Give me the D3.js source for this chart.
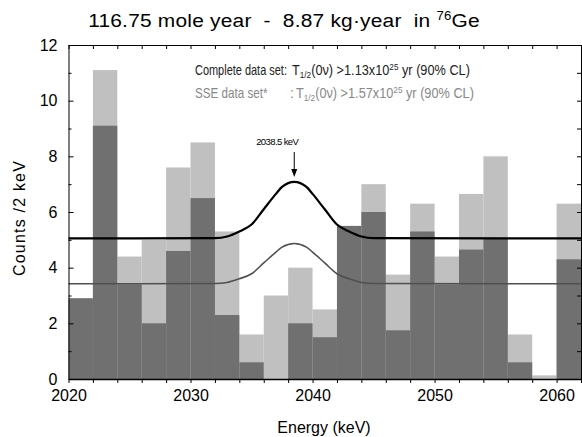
<!DOCTYPE html>
<html lang="en">
<head>
<meta charset="utf-8">
<title>76Ge spectrum</title>
<script src="https://cdn.jsdelivr.net/npm/d3@7"></script>
<style>
  body { margin: 0; background: #fff; }
  svg text { font-family: "Liberation Sans", Arial, sans-serif; }
</style>
</head>
<body>
<svg id="chart" width="582" height="437"></svg>
<script>
// bin left edges (2 keV bins)
var binStart = [2020, 2022, 2024, 2026, 2028, 2030, 2032, 2034, 2036, 2038, 2040,
                2042, 2044, 2046, 2048, 2050, 2052, 2054, 2056, 2058, 2060];
// complete data set (light grey)
var completeCounts = [2.9, 11.1, 4.4, 5.0, 7.6, 8.5, 5.3, 1.6, 3.0, 4.0, 2.5,
                      5.5, 7.0, 3.75, 6.3, 4.4, 6.65, 8.0, 1.6, 0.13, 6.3];
// SSE data set (dark grey)
var sseCounts = [2.9, 9.1, 3.4, 2.0, 4.6, 6.5, 2.3, 0.6, 0, 2.0, 1.5,
                 5.5, 6.0, 1.75, 5.3, 3.4, 4.65, 5.05, 0.6, 0, 4.3];
// fit curves
var curveE = [2020, 2032, 2033, 2034, 2035, 2036, 2037, 2037.5, 2038.5, 2039.5, 2040, 2041, 2042, 2043, 2044, 2045, 2062];
var fitComplete = [5.05, 5.06, 5.12, 5.3, 5.55, 6.1, 6.65, 6.9, 7.08, 6.9, 6.65, 6.1, 5.55, 5.3, 5.12, 5.06, 5.05];
var fitSSE = [3.42, 3.43, 3.47, 3.6, 3.78, 4.17, 4.56, 4.74, 4.87, 4.74, 4.56, 4.17, 3.78, 3.6, 3.47, 3.43, 3.42];
var xTicks = [2020, 2030, 2040, 2050, 2060];
var yTicks = [0, 2, 4, 6, 8, 10, 12];
var peakE = 2038.5;

(function() {
var binWidth = 2;
var pl = 68.5, pr = 581, pt = 45, pb = 379;

var svg = d3.select('#chart');
var x = d3.scaleLinear().domain([2020, 2062]).range([pl, pr]);
var y = d3.scaleLinear().domain([0, 12]).range([pb, pt]);

var plot = svg.append('g');

// light bars (complete set)
plot.selectAll('rect.complete')
    .data(binStart)
    .enter().append('rect')
    .attr('class', 'complete')
    .attr('x', function(d) { return x(d); })
    .attr('width', function(d) { return x(d + binWidth) - x(d); })
    .attr('y', function(d, i) { return y(completeCounts[i]); })
    .attr('height', function(d, i) { return y(0) - y(completeCounts[i]); })
    .attr('fill', '#c0c0c0');

// dark bars (SSE set)
plot.selectAll('rect.sse')
    .data(binStart)
    .enter().append('rect')
    .attr('class', 'sse')
    .attr('x', function(d) { return x(d); })
    .attr('width', function(d) { return x(d + binWidth) - x(d); })
    .attr('y', function(d, i) { return y(sseCounts[i]); })
    .attr('height', function(d, i) { return y(0) - y(sseCounts[i]); })
    .attr('fill', '#707070');

var line = d3.line()
    .x(function(d) { return x(d[0]); })
    .y(function(d) { return y(d[1]); })
    .curve(d3.curveMonotoneX);

plot.append('path')
    .datum(d3.zip(curveE, fitSSE))
    .attr('d', line)
    .attr('fill', 'none')
    .attr('stroke', '#505050')
    .attr('stroke-width', 1.6);

plot.append('path')
    .datum(d3.zip(curveE, fitComplete))
    .attr('d', line)
    .attr('fill', 'none')
    .attr('stroke', '#000')
    .attr('stroke-width', 2.2);

// axes
var bottomAxis = d3.axisBottom(x).tickValues(d3.range(2020, 2063, 2))
    .tickSize(4).tickSizeOuter(0)
    .tickFormat(function(d) { return xTicks.indexOf(d) >= 0 ? d : ''; });
var gx = svg.append('g').attr('transform', 'translate(0,' + pb + ')').call(bottomAxis);
gx.select('.domain').attr('stroke-width', 1.5);
gx.selectAll('text').attr('font-size', 16).attr('dy', '0.95em').attr('fill', '#000');

var topAxis = d3.axisTop(x).tickValues(d3.range(2020, 2063, 2)).tickSize(-4).tickSizeOuter(0).tickFormat('');
svg.append('g').attr('transform', 'translate(0,' + pt + ')').call(topAxis);

var leftAxis = d3.axisLeft(y).tickValues(yTicks).tickSize(-5).tickSizeOuter(0).tickPadding(11);
var gy = svg.append('g').attr('transform', 'translate(' + pl + ',0)').call(leftAxis);
gy.selectAll('text').attr('font-size', 16).attr('fill', '#000');
svg.append('g').attr('transform', 'translate(' + pl + ',0)')
    .call(d3.axisLeft(y).tickValues(d3.range(1, 12, 2)).tickSize(-3).tickFormat(''))
    .select('.domain').remove();

var rightAxis = d3.axisRight(y).tickValues(d3.range(0, 13, 1)).tickSize(-4).tickSizeOuter(0).tickFormat('');
svg.append('g').attr('transform', 'translate(' + pr + ',0)').call(rightAxis);

// title
var title = svg.append('text')
    .attr('transform', 'translate(284,27) scale(1.1,1)')
    .attr('text-anchor', 'middle')
    .attr('font-size', 19)
    .attr('letter-spacing', 0.2)
    .style('white-space', 'pre');
title.append('tspan').text('116.75 mole year  -  8.87 kg\u00b7year  in ');
title.append('tspan').attr('font-size', 12).attr('dy', -7).text('76');
title.append('tspan').attr('dy', 7).text('Ge');

// axis labels
svg.append('text')
    .attr('x', 324).attr('y', 433)
    .attr('text-anchor', 'middle')
    .attr('font-size', 16)
    .text('Energy (keV)');

svg.append('text')
    .attr('transform', 'translate(25,218) rotate(-90)')
    .attr('text-anchor', 'middle')
    .attr('font-size', 16)
    .attr('letter-spacing', 1.2)
    .text('Counts /2 keV');

// squeeze a text group horizontally to a target width (the original font is narrow)
function fitWidth(g, x0, yy, target) {
    var w = g.node().getBBox().width;
    g.attr('transform', 'translate(' + x0 + ',' + yy + ') scale(' + (target / w) + ',1)');
}

// legend lines
function halfLife(label, labelW, colonX, tX, value, color, yy) {
    var gl = svg.append('g');
    gl.append('text').attr('font-size', 14).attr('fill', color).text(label);
    fitWidth(gl, 195, yy, labelW);
    if (colonX) {
        svg.append('text').attr('x', colonX).attr('y', yy)
            .attr('font-size', 14).attr('fill', color).text(':');
    }
    var gt = svg.append('g');
    var t = gt.append('text').attr('font-size', 14).attr('fill', color)
        .style('white-space', 'pre');
    t.append('tspan').text('T');
    t.append('tspan').attr('font-size', 9).attr('dy', 3).text('1/2');
    t.append('tspan').attr('dy', -3).text('(0\u03bd) >' + value + 'x10');
    t.append('tspan').attr('font-size', 9).attr('dy', -5).text('25');
    t.append('tspan').attr('dy', 5).text(' yr (90% CL)');
    fitWidth(gt, tX, yy, 178);
}
halfLife('Complete data set:', 92, null, 292, '1.13', '#222', 75);
halfLife('SSE data set*', 73, 290, 296, '1.57', '#888', 98);

// peak marker
svg.append('line')
    .attr('x1', x(peakE)).attr('x2', x(peakE))
    .attr('y1', 152).attr('y2', 170)
    .attr('stroke', '#000').attr('stroke-width', 1);
svg.append('path')
    .attr('d', 'M' + (x(peakE) - 3) + ',169 L' + (x(peakE) + 3) + ',169 L' + x(peakE) + ',177 Z')
    .attr('fill', '#000');
svg.append('text')
    .attr('x', x(peakE) + 4).attr('y', 145)
    .attr('text-anchor', 'end')
    .attr('font-size', 9.5)
    .attr('letter-spacing', -0.6)
    .text(peakE + ' keV');
})();
</script>
</body>
</html>
